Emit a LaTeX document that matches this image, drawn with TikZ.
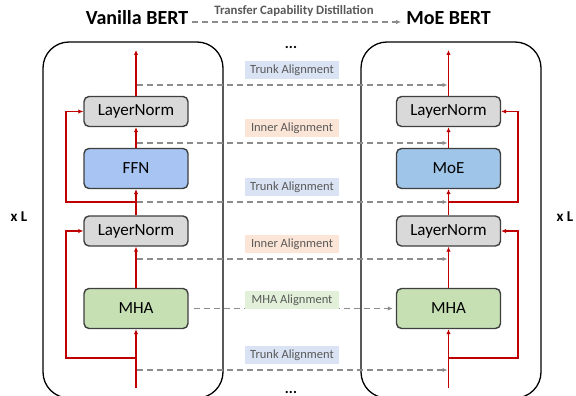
\documentclass[tikz,border=0pt]{standalone}
\usepackage{fontspec}
\setmainfont{Carlito}
\usetikzlibrary{arrows.meta, positioning, calc}
\definecolor{resred}{HTML}{C00000}
\definecolor{dshgray}{HTML}{8C8C8C}
\definecolor{boxline}{HTML}{3F3F3F}
\definecolor{lngray}{HTML}{D9D9D9}
\definecolor{ffnblue}{HTML}{A7C4F2}
\definecolor{moeblue}{HTML}{9FC5E8}
\definecolor{mhagreen}{HTML}{C6E0B4}
\definecolor{trkblue}{HTML}{DAE3F3}
\definecolor{innorange}{HTML}{FBE5D6}
\definecolor{mhalight}{HTML}{E2F0D9}
\definecolor{lbltext}{HTML}{595959}
\tikzset{
    blk/.style={draw=boxline, line width=1.4pt, rounded corners=5pt,
        minimum width=104pt, inner sep=0pt, font=\fontsize{17}{20}\selectfont},
    frame/.style={draw=black, line width=1.3pt, rounded corners=26pt},
    res/.style={draw=resred, line width=1.2pt, -{Latex[length=5pt,width=4.5pt]}},
    dsh/.style={draw=dshgray, line width=1.3pt, dash pattern=on 6pt off 4pt,
        -{Latex[length=5pt,width=4.5pt]}},
    algn/.style={minimum width=94pt, minimum height=18pt, inner sep=0pt,
        text=lbltext, font=\fontsize{12.5}{15}\selectfont},
    ttl/.style={anchor=base, inner sep=0pt, font=\fontsize{20}{24}\selectfont\bfseries},
    sml/.style={inner sep=0pt, font=\fontsize{15}{18}\selectfont\bfseries}
}
\begin{document}
\begin{tikzpicture}[x=1pt, y=-1pt]
    \def \xa {136}
    \def \xb {448.5}
    \def \xm {292}
    \useasboundingbox (0,0) rectangle (576,396);
    % titles
    \node[ttl] (van) at (137,25) {Vanilla BERT};
    \node[ttl] (moe) at (448.5,25) {MoE BERT};
    \node[ttl, font=\fontsize{12.8}{15}\selectfont\bfseries, text=lbltext] (tcd) at (294,15) {Transfer Capability Distillation};
    \draw[dsh] ([xshift=4pt,yshift=3pt]van.base east) -- ([xshift=-5pt,yshift=3pt]moe.base west);
    % layer frames
    \draw[frame] (43,42) rectangle (223,398);
    \draw[frame] (361,42) rectangle (541,398);
    \node[sml] (d1) at (291,47) {...};
    \node[sml] (d2) at (291,392) {...};
    \node[sml] (n1) at (19,217) {x L};
    \node[sml] (n2) at (565,217) {x L};
    % vanilla layer
    \node[blk, fill=lngray, minimum height=30pt] (a4) at (\xa,111.5) {LayerNorm};
    \node[blk, fill=ffnblue, minimum height=40pt] (a3) at (\xa,168.5) {FFN};
    \node[blk, fill=lngray, minimum height=30pt] (a2) at (\xa,231) {LayerNorm};
    \node[blk, fill=mhagreen, minimum height=40pt] (a1) at (\xa,308.5) {MHA};
    \coordinate (a0) at (\xa,388);
    \coordinate (a5) at (\xa,50);
    \draw[res] (a0) -- (a1);
    \draw[res] (a1) -- (a2);
    \draw[res] (a2) -- (a3);
    \draw[res] (a3) -- (a4);
    \draw[res] (a4) -- (a5);
    \coordinate (ra1) at (\xa,358);
    \coordinate (ra2) at (\xa,202);
    \draw[res] (ra1) -- ++(-70,0) |- (a2.west);
    \draw[res] (ra2) -- ++(-70,0) |- (a4.west);
    % moe layer
    \node[blk, fill=lngray, minimum height=30pt] (b4) at (\xb,111.5) {LayerNorm};
    \node[blk, fill=moeblue, minimum height=40pt] (b3) at (\xb,168.5) {MoE};
    \node[blk, fill=lngray, minimum height=30pt] (b2) at (\xb,231) {LayerNorm};
    \node[blk, fill=mhagreen, minimum height=40pt] (b1) at (\xb,308.5) {MHA};
    \coordinate (b0) at (\xb,388);
    \coordinate (b5) at (\xb,50);
    \draw[res] (b0) -- (b1);
    \draw[res] (b1) -- (b2);
    \draw[res] (b2) -- (b3);
    \draw[res] (b3) -- (b4);
    \draw[res] (b4) -- (b5);
    \coordinate (rb1) at (\xb,358);
    \coordinate (rb2) at (\xb,202);
    \draw[res] (rb1) -- ++(69.5,0) |- (b2.east);
    \draw[res] (rb2) -- ++(69.5,0) |- (b4.east);
    % alignments
    \foreach \i/\y/\n/\c in {1/85/Trunk/trkblue, 2/143/Inner/innorange, 3/202/Trunk/trkblue, 4/259/Inner/innorange, 5/370/Trunk/trkblue}{
        \coordinate (s\i) at (\xa+1,\y);
        \coordinate (t\i) at (\xb-1,\y);
        \draw[dsh] (s\i) -- (t\i);
        \node[algn, fill=\c] (l\i) at (\xm,\y-15) {\n{} Alignment};
    }
    \draw[dsh] ([xshift=5pt]a1.east) -- ([xshift=-3pt]b1.west);
    \node[algn, fill=mhalight] (l6) at (\xm,300) {MHA Alignment};
\end{tikzpicture}
\end{document}
